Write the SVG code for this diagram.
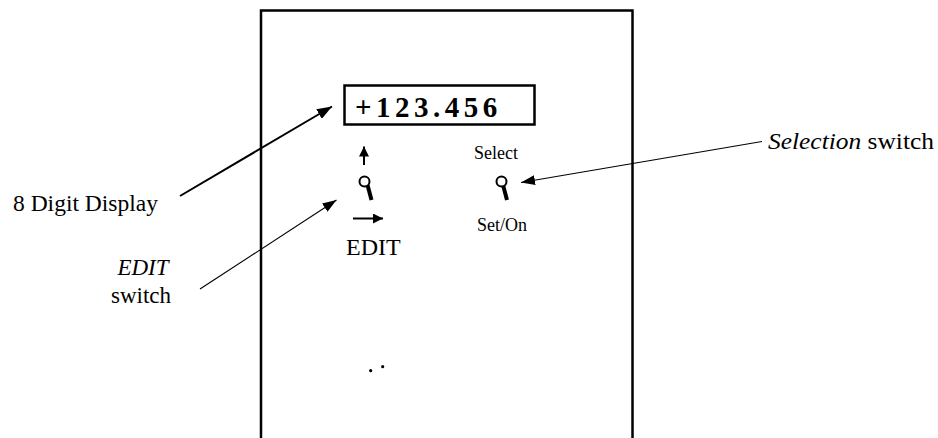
<svg xmlns="http://www.w3.org/2000/svg" width="938" height="438" viewBox="0 0 938 438">
<defs>
<style>
.t{font-family:"Liberation Serif","Times New Roman",serif;fill:#000}
.box{fill:none;stroke:#000;stroke-width:2.5}
.thick{stroke:#000;stroke-width:2;fill:none}
.thin{stroke:#000;stroke-width:1.1;fill:none}
.lever{stroke:#000;stroke-width:4;stroke-linecap:butt}
.knob{fill:#fff;stroke:#000;stroke-width:2}
</style>
<marker id="ah" viewBox="0 0 10 10" refX="10" refY="5" markerWidth="10" markerHeight="10" markerUnits="userSpaceOnUse" orient="auto" preserveAspectRatio="none">
<path d="M0,0 L10,5 L0,10 Z" fill="#000"/>
</marker>
<marker id="ahL" viewBox="0 0 10 10" refX="10" refY="5" markerWidth="15" markerHeight="11" markerUnits="userSpaceOnUse" orient="auto" preserveAspectRatio="none">
<path d="M0,0 L10,5 L0,10 Z" fill="#000"/>
</marker>
<marker id="ahM" viewBox="0 0 10 10" refX="10" refY="5" markerWidth="14" markerHeight="10" markerUnits="userSpaceOnUse" orient="auto" preserveAspectRatio="none">
<path d="M0,0 L10,5 L0,10 Z" fill="#000"/>
</marker>
</defs>
<g id="panel">
<path class="box" d="M261,440 V10.5 H632.5 V440"/>
</g>
<g id="display">
<rect class="box" x="344.5" y="85.5" width="190" height="39"/>
<text class="t" x="355" y="117" font-size="29" font-weight="bold" letter-spacing="4.5">+123.456</text>
</g>
<g id="edit-switch">
<line class="thick" x1="364" y1="165" x2="364" y2="146.5" marker-end="url(#ah)"/>
<line class="lever" x1="367.5" y1="185" x2="371.5" y2="200"/>
<circle class="knob" cx="364.5" cy="181.5" r="5"/>
<line class="thick" x1="353" y1="218.5" x2="383" y2="218.5" marker-end="url(#ah)"/>
<text class="t" x="346" y="255" font-size="24">EDIT</text>
</g>
<g id="selection-switch">
<text class="t" x="474" y="159" font-size="18">Select</text>
<line class="lever" x1="503" y1="185" x2="507" y2="200"/>
<circle class="knob" cx="501.5" cy="181.5" r="5"/>
<text class="t" x="477" y="231" font-size="18">Set/On</text>
</g>
<g id="dots">
<circle cx="370.7" cy="370.7" r="1.6" fill="#000"/>
<circle cx="382.7" cy="366.7" r="1.6" fill="#000"/>
</g>
<g id="label-display">
<text class="t" x="13" y="211" font-size="23" textLength="145" lengthAdjust="spacingAndGlyphs">8 Digit Display</text>
</g>
<g id="label-edit">
<text class="t" x="143" y="275" font-size="23" text-anchor="middle"><tspan font-style="italic">EDIT</tspan></text>
<text class="t" x="141" y="303" font-size="23" text-anchor="middle">switch</text>
</g>
<g id="label-selection">
<text class="t" x="768" y="149" font-size="23" textLength="166" lengthAdjust="spacingAndGlyphs"><tspan font-style="italic">Selection</tspan> switch</text>
</g>
<g id="connectors">
<line class="thick" x1="180" y1="196" x2="332" y2="106.5" marker-end="url(#ahL)"/>
<line class="thin" x1="200" y1="289" x2="336.5" y2="200" marker-end="url(#ahM)"/>
<line class="thin" x1="762" y1="141.5" x2="521" y2="182.5" marker-end="url(#ahM)"/>
</g>
</svg>
